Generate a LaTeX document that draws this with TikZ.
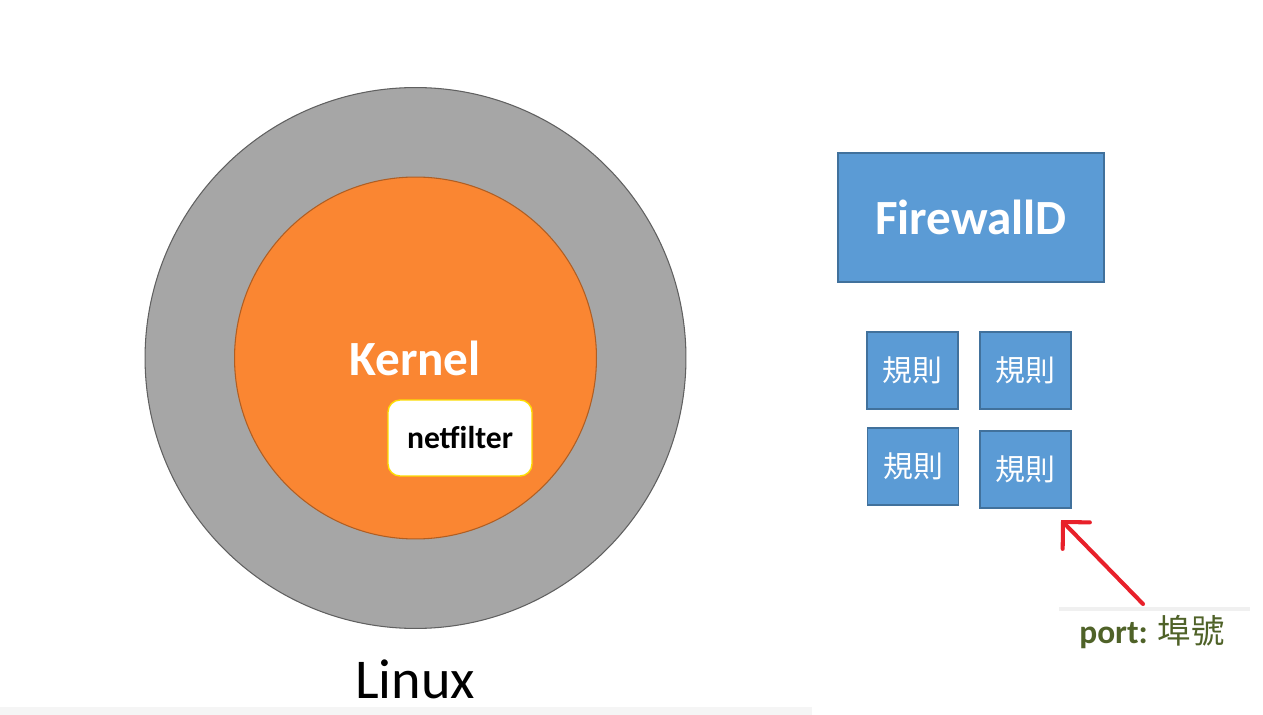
\documentclass[tikz,border=0pt]{standalone}
\usepackage{fontspec}
\setmainfont{Carlito}
\newfontfamily\cjk{Noto Sans CJK TC}
\usetikzlibrary{positioning,arrows.meta}
\definecolor{linuxgray}{HTML}{A6A6A6}
\definecolor{kernelorange}{HTML}{FA8632}
\definecolor{fwblue}{HTML}{5B9BD5}
\definecolor{fwborder}{HTML}{41719C}
\definecolor{portgreen}{HTML}{4F6228}
\definecolor{arrowred}{HTML}{E8202A}
\tikzset{
    layer/.style={circle,inner sep=0pt,line width=0.6pt},
    filterbox/.style={rectangle,rounded corners=0.24cm,draw=yellow!80!orange,fill=white,line width=0.8pt,minimum width=2.88cm,minimum height=1.52cm,font=\bfseries\fontsize{18}{21}\selectfont},
    fwbox/.style={rectangle,draw=fwborder,fill=fwblue,line width=0.8pt,text=white,text centered},
    rulebox/.style={fwbox,minimum width=1.82cm,minimum height=1.54cm,font=\cjk\fontsize{17}{20}\selectfont},
}

\begin{document}
\begin{tikzpicture}[x=0.02cm,y=-0.02cm,>=latex]
\useasboundingbox[fill=white] (0,0) rectangle (1263,715);
\fill[gray!8] (0,707) rectangle (812,715);
\fill[gray!12] (1059,607) rectangle (1250,611);

\node[layer,draw=gray!75!black,fill=linuxgray,minimum size=10.82cm](linux) at (415.5,358) {};
\node[layer,draw=kernelorange!70!black,fill=kernelorange,minimum size=7.24cm](kernel) at (415.5,358) {};
\node[text=white,font=\bfseries\fontsize{28}{32}\selectfont](kernellbl) at (415,358) {Kernel};
\node[filterbox](netfilter) at (460,438) {netfilter};
\node[font=\fontsize{32}{36}\selectfont](linuxlbl) at (415,679) {Linux};

\node[fwbox,minimum width=5.32cm,minimum height=2.58cm,font=\bfseries\fontsize{28}{32}\selectfont](fw) at (971,217.5) {FirewallD};
\node[rulebox](rule1) at (912.5,370.5) {規則};
\node[rulebox](rule2) at (1025.5,370.5) {規則};
\node[rulebox](rule3) at (913,466.5) {規則};
\node[rulebox](rule4) at (1025.5,469.5) {規則};

\node[text=portgreen,font=\bfseries\fontsize{19}{22}\selectfont](port) at (1152,632) {port: {\cjk\mdseries 埠號}};
\coordinate (tail) at (1143,604);
\coordinate (tip) at (1061,520);
\draw[arrowred,line width=2.3pt,line cap=round,-{Straight Barb[length=0.38cm,width=0.76cm,line cap=round]}] (tail) -- (tip);
\end{tikzpicture}
\end{document}
